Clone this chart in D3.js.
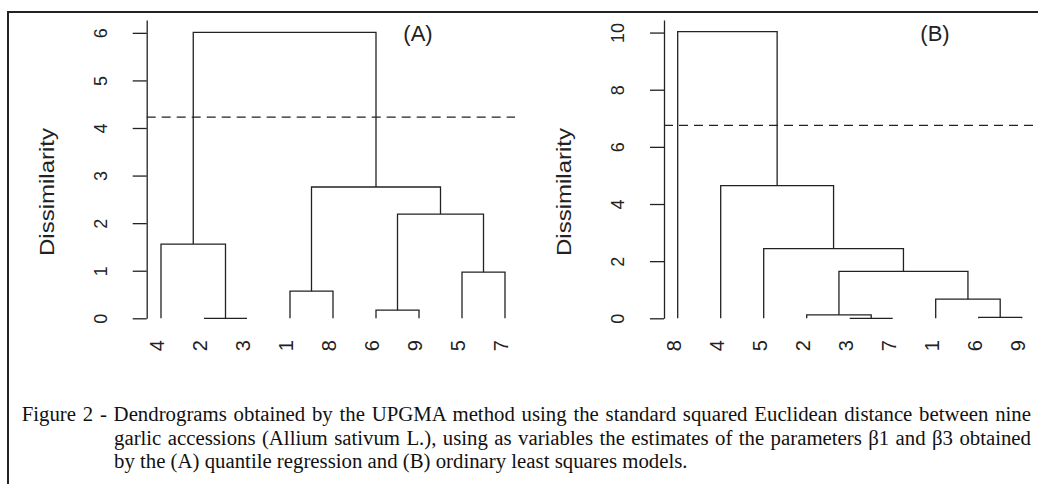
<!DOCTYPE html>
<html>
<head>
<meta charset="utf-8">
<script src="https://cdn.jsdelivr.net/npm/d3@7"></script>
<style>
  body { margin: 0; background: #fff; }
  svg { display: block; }
</style>
</head>
<body>
<div id="chart"></div>
<script>
// ---- data ----
// leaf order along the bottom of each dendrogram
var leavesA = ["4", "2", "3", "1", "8", "6", "9", "5", "7"];
var leavesB = ["8", "4", "5", "2", "3", "7", "1", "6", "9"];

// merges like R hclust: negative = leaf, positive = earlier merge (1-based)
var mergeA = [[-2, -3], [-6, -9], [-1, -8], [-5, -7], [-4, 1], [2, 4], [3, 6], [5, 7]];
var heightA = [0, 0.17, 0.57, 0.97, 1.56, 2.19, 2.76, 6.01];
var mergeB = [[-3, -7], [-6, -9], [-2, 1], [-1, 2], [3, 4], [-5, 5], [-4, 6], [-8, 7]];
var heightB = [0, 0.03, 0.12, 0.67, 1.64, 2.44, 4.64, 10.03];

// dashed cut lines
var cutA = 4.23, cutB = 6.75;

var ticksA = [0, 1, 2, 3, 4, 5, 6];
var ticksB = [0, 2, 4, 6, 8, 10];
var panelTitles = ["(A)", "(B)"];
var yLabel = "Dissimilarity";

var caption = [
  "Figure 2 - Dendrograms obtained by the UPGMA method using the standard squared Euclidean distance between nine",
  "garlic accessions (Allium sativum L.), using as variables the estimates of the parameters \u03b21 and \u03b23 obtained",
  "by the (A) quantile regression and (B) ordinary least squares models."
];

// ---- layout ----
var width = 1038, height = 484;
var ink = "#222";
var y0 = 318.3, yEnd = 20;

var panels = [
  { leaves: leavesA, merges: mergeA, heights: heightA, cut: cutA, ticks: ticksA,
    ymax: 6.27, axisX: 146.7, xr: [161, 505], cutEnd: 515, title: panelTitles[0],
    titleX: 418, labelX: 46 },
  { leaves: leavesB, merges: mergeB, heights: heightB, cut: cutB, ticks: ticksB,
    ymax: 10.44, axisX: 664, xr: [677.7, 1021.7], cutEnd: 1038, title: panelTitles[1],
    titleX: 935, labelX: 563 }
];

var svg = d3.select("#chart").append("svg")
    .attr("width", width)
    .attr("height", height);

// frame (left + top only are visible)
svg.append("path")
    .attr("d", "M8,484V12H1038")
    .style("fill", "none")
    .style("stroke", ink)
    .style("stroke-width", 2);

panels.forEach(function(p) {
    var x = d3.scalePoint().domain(p.leaves).range(p.xr);
    var y = d3.scaleLinear().domain([0, p.ymax]).range([y0, yEnd]);
    var g = svg.append("g");

    // branches
    var pos = [];
    function cx(k) { return k < 0 ? x(String(-k)) : pos[k - 1]; }
    function ch(k) { return k < 0 ? 0 : p.heights[k - 1]; }
    p.merges.forEach(function(m, i) {
        var x1 = cx(m[0]), x2 = cx(m[1]), h = p.heights[i];
        g.append("path")
            .attr("d", "M" + x1 + "," + y(ch(m[0])) + "V" + y(h) + "H" + x2 + "V" + y(ch(m[1])))
            .style("fill", "none")
            .style("stroke", ink)
            .style("stroke-width", 1.3);
        pos[i] = (x1 + x2) / 2;
    });

    // cut line
    g.append("line")
        .attr("x1", p.axisX).attr("x2", p.cutEnd)
        .attr("y1", y(p.cut)).attr("y2", y(p.cut))
        .style("stroke", ink)
        .style("stroke-width", 1.3)
        .style("stroke-dasharray", "9,6");

    // y axis
    var ax = g.append("g")
        .attr("transform", "translate(" + p.axisX + ",0)")
        .call(d3.axisLeft(y).tickValues(p.ticks).tickFormat(d3.format("d"))
            .tickSize(14).tickSizeOuter(0));
    ax.select(".domain").style("stroke", ink).style("stroke-width", 1.3);
    ax.selectAll(".tick line").style("stroke", ink).style("stroke-width", 1.3);
    ax.selectAll(".tick text")
        .attr("transform", "rotate(-90)")
        .attr("x", 0).attr("y", -46).attr("dy", null)
        .attr("text-anchor", "middle")
        .attr("dominant-baseline", "central")
        .style("font-family", "'Liberation Sans', Arial, sans-serif")
        .style("font-size", "18px")
        .style("fill", ink);

    // leaf labels
    g.selectAll(".leaf")
        .data(p.leaves)
        .enter()
        .append("text")
        .attr("class", "leaf")
        .attr("transform", function(d) { return "translate(" + (x(d) - 4) + ",340) rotate(-90)"; })
        .attr("text-anchor", "end")
        .attr("dominant-baseline", "central")
        .style("font-family", "'Liberation Sans', Arial, sans-serif")
        .style("font-size", "20px")
        .style("fill", ink)
        .text(function(d) { return d; });

    // y label
    g.append("text")
        .attr("transform", "translate(" + p.labelX + ",192) rotate(-90)")
        .attr("text-anchor", "middle")
        .attr("dominant-baseline", "central")
        .attr("textLength", 128)
        .attr("lengthAdjust", "spacingAndGlyphs")
        .style("font-family", "'Liberation Sans', Arial, sans-serif")
        .style("font-size", "21px")
        .style("fill", ink)
        .text(yLabel);

    // panel title
    g.append("text")
        .attr("x", p.titleX).attr("y", 41)
        .attr("text-anchor", "middle")
        .style("font-family", "'Liberation Sans', Arial, sans-serif")
        .style("font-size", "22px")
        .style("fill", ink)
        .text(p.title);
});

// caption, lines 1-2 justified to the right edge
var capX = [21.7, 114, 114], capY = [421, 445, 468], capRight = 1031;
caption.forEach(function(line, i) {
    var t = svg.append("text")
        .attr("x", capX[i]).attr("y", capY[i])
        .style("font-family", "'Liberation Serif', 'Times New Roman', serif")
        .style("font-size", "20.8px")
        .style("fill", "#111")
        .text(line);
    if (i < 2) {
        var natural = t.node().getComputedTextLength();
        var spaces = line.split(" ").length - 1;
        t.style("word-spacing", ((capRight - capX[i] - natural) / spaces) + "px");
    }
});
</script>
</body>
</html>
